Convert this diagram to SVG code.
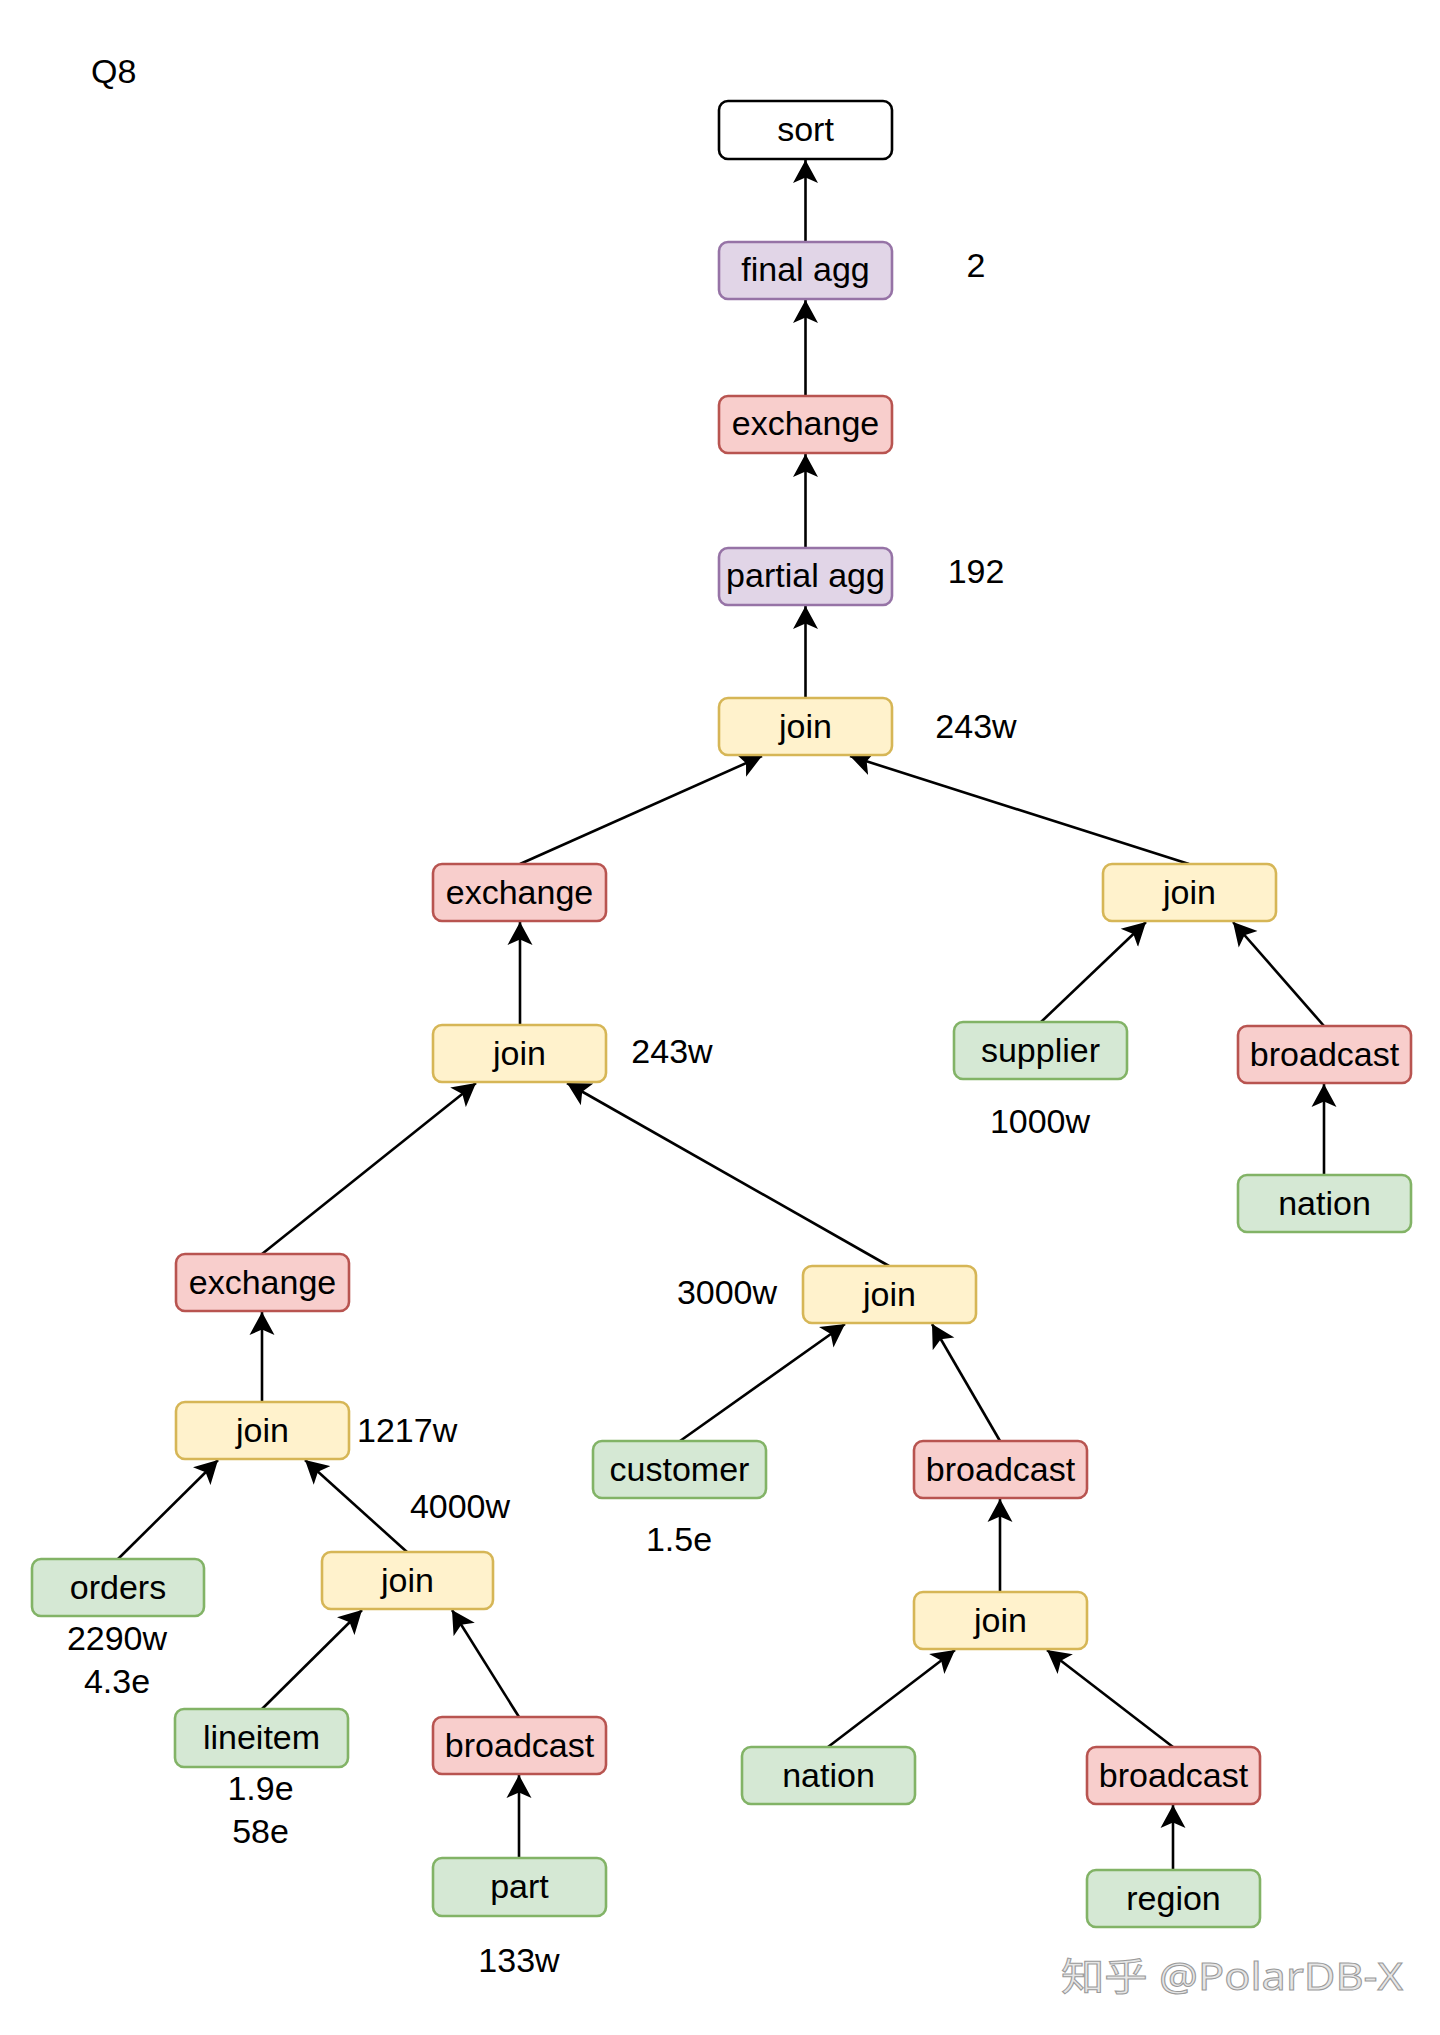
<svg xmlns="http://www.w3.org/2000/svg" width="1440" height="2035" viewBox="0 0 1440 2035">
<style>
  .n rect { stroke-width: 2.6; }
  .n text, .lbl { font-family: "Liberation Sans", Arial, sans-serif; font-size: 34px; fill: #000; }
  .n text { text-anchor: middle; }
  .plain rect { fill: #ffffff; stroke: #000000; }
  .purple rect { fill: #e1d5e7; stroke: #9673a6; }
  .red rect { fill: #f8cecc; stroke: #b85450; }
  .yellow rect { fill: #fff2cc; stroke: #d6b656; }
  .green rect { fill: #d5e8d4; stroke: #82b366; }
  .edges line { stroke: #000; stroke-width: 2.6; marker-end: url(#arr); }
  .mid { text-anchor: middle; }
</style>
<defs>
  <marker id="arr" markerUnits="userSpaceOnUse" markerWidth="24" markerHeight="26" viewBox="0 0 24 26" refX="23" refY="13" orient="auto">
    <path d="M23,13 L0,0.5 L5.5,13 L0,25.5 Z" fill="#000"/>
  </marker>
</defs>
<rect width="1440" height="2035" fill="#ffffff"/>

<text class="lbl" x="91" y="83">Q8</text>

<g class="edges" id="connectors">
  <line x1="805.5" y1="242" x2="805.5" y2="160"/>
  <line x1="805.5" y1="396" x2="805.5" y2="300"/>
  <line x1="805.5" y1="548" x2="805.5" y2="454"/>
  <line x1="805.5" y1="698" x2="805.5" y2="606"/>
  <line x1="520" y1="864" x2="762" y2="756"/>
  <line x1="1189" y1="864" x2="850" y2="756"/>
  <line x1="520" y1="1025" x2="520" y2="922"/>
  <line x1="1041" y1="1022" x2="1146" y2="922"/>
  <line x1="1324" y1="1026" x2="1233" y2="922"/>
  <line x1="1324" y1="1175" x2="1324" y2="1084"/>
  <line x1="262" y1="1254" x2="476" y2="1083"/>
  <line x1="889" y1="1266" x2="567" y2="1083"/>
  <line x1="262" y1="1402" x2="262" y2="1312"/>
  <line x1="680" y1="1441" x2="845" y2="1324"/>
  <line x1="1000" y1="1441" x2="932" y2="1324"/>
  <line x1="118" y1="1559" x2="218" y2="1460"/>
  <line x1="407" y1="1552" x2="305" y2="1460"/>
  <line x1="1000" y1="1592" x2="1000" y2="1499"/>
  <line x1="262" y1="1709" x2="362" y2="1610"/>
  <line x1="519" y1="1717" x2="452" y2="1610"/>
  <line x1="519" y1="1858" x2="519" y2="1775"/>
  <line x1="828" y1="1747" x2="955" y2="1650"/>
  <line x1="1173" y1="1747" x2="1047" y2="1650"/>
  <line x1="1173" y1="1870" x2="1173" y2="1805"/>
</g>

<g id="sort" class="n plain"><rect x="719" y="101" width="173" height="58" rx="9"/><text x="805.5" y="141">sort</text></g>
<g id="final-agg" class="n purple"><rect x="719" y="242" width="173" height="57" rx="9"/><text x="805.5" y="281">final agg</text></g>
<g id="exchange-1" class="n red"><rect x="719" y="396" width="173" height="57" rx="9"/><text x="805.5" y="435">exchange</text></g>
<g id="partial-agg" class="n purple"><rect x="719" y="548" width="173" height="57" rx="9"/><text x="805.5" y="587">partial agg</text></g>
<g id="join-1" class="n yellow"><rect x="719" y="698" width="173" height="57" rx="9"/><text x="805.5" y="738">join</text></g>
<g id="exchange-2" class="n red"><rect x="433" y="864" width="173" height="57" rx="9"/><text x="519.5" y="904">exchange</text></g>
<g id="join-2" class="n yellow"><rect x="1103" y="864" width="173" height="57" rx="9"/><text x="1189.5" y="904">join</text></g>
<g id="join-3" class="n yellow"><rect x="433" y="1025" width="173" height="57" rx="9"/><text x="519.5" y="1065">join</text></g>
<g id="supplier" class="n green"><rect x="954" y="1022" width="173" height="57" rx="9"/><text x="1040.5" y="1062">supplier</text></g>
<g id="broadcast-1" class="n red"><rect x="1238" y="1026" width="173" height="57" rx="9"/><text x="1324.5" y="1066">broadcast</text></g>
<g id="nation-1" class="n green"><rect x="1238" y="1175" width="173" height="57" rx="9"/><text x="1324.5" y="1215">nation</text></g>
<g id="exchange-3" class="n red"><rect x="176" y="1254" width="173" height="57" rx="9"/><text x="262.5" y="1294">exchange</text></g>
<g id="join-4" class="n yellow"><rect x="803" y="1266" width="173" height="57" rx="9"/><text x="889.5" y="1306">join</text></g>
<g id="join-5" class="n yellow"><rect x="176" y="1402" width="173" height="57" rx="9"/><text x="262.5" y="1442">join</text></g>
<g id="customer" class="n green"><rect x="593" y="1441" width="173" height="57" rx="9"/><text x="679.5" y="1481">customer</text></g>
<g id="broadcast-2" class="n red"><rect x="914" y="1441" width="173" height="57" rx="9"/><text x="1000.5" y="1481">broadcast</text></g>
<g id="orders" class="n green"><rect x="32" y="1559" width="172" height="57" rx="9"/><text x="118" y="1599">orders</text></g>
<g id="join-6" class="n yellow"><rect x="322" y="1552" width="171" height="57" rx="9"/><text x="407.5" y="1592">join</text></g>
<g id="join-7" class="n yellow"><rect x="914" y="1592" width="173" height="57" rx="9"/><text x="1000.5" y="1632">join</text></g>
<g id="lineitem" class="n green"><rect x="175" y="1709" width="173" height="58" rx="9"/><text x="261.5" y="1749">lineitem</text></g>
<g id="broadcast-3" class="n red"><rect x="433" y="1717" width="173" height="57" rx="9"/><text x="519.5" y="1757">broadcast</text></g>
<g id="nation-2" class="n green"><rect x="742" y="1747" width="173" height="57" rx="9"/><text x="828.5" y="1787">nation</text></g>
<g id="broadcast-4" class="n red"><rect x="1087" y="1747" width="173" height="57" rx="9"/><text x="1173.5" y="1787">broadcast</text></g>
<g id="part" class="n green"><rect x="433" y="1858" width="173" height="58" rx="9"/><text x="519.5" y="1898">part</text></g>
<g id="region" class="n green"><rect x="1087" y="1870" width="173" height="57" rx="9"/><text x="1173.5" y="1910">region</text></g>

<g id="labels">
  <text class="lbl mid" x="976" y="277">2</text>
  <text class="lbl mid" x="976" y="583">192</text>
  <text class="lbl mid" x="976" y="738">243w</text>
  <text class="lbl mid" x="672" y="1063">243w</text>
  <text class="lbl mid" x="1040" y="1133">1000w</text>
  <text class="lbl mid" x="727" y="1304">3000w</text>
  <text class="lbl" x="357" y="1442">1217w</text>
  <text class="lbl mid" x="460" y="1518">4000w</text>
  <text class="lbl mid" x="679" y="1551">1.5e</text>
  <text class="lbl mid" x="117" y="1650">2290w</text>
  <text class="lbl mid" x="117" y="1693">4.3e</text>
  <text class="lbl mid" x="260.5" y="1800">1.9e</text>
  <text class="lbl mid" x="260.5" y="1843">58e</text>
  <text class="lbl mid" x="519" y="1972">133w</text>
</g>

<text x="1061" y="1990" textLength="342" lengthAdjust="spacingAndGlyphs" style="font-family: 'Noto Sans', 'Noto Sans CJK SC', sans-serif; font-size: 38px; fill: #e6e6e6; stroke: #9a9a9a; stroke-width: 1;">知乎 @PolarDB-X</text>
</svg>
